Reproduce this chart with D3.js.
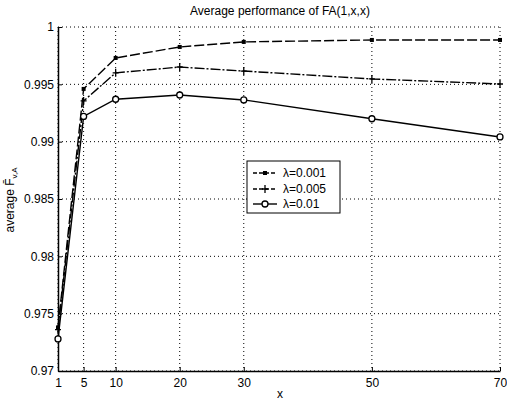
<!DOCTYPE html>
<html><head><meta charset="utf-8">
<script src="https://cdn.jsdelivr.net/npm/d3@7"></script>
<style>body{margin:0;background:#fff;} text{font-family:"Liberation Sans",Arial,sans-serif;}</style>
</head><body><svg id="c" width="507" height="402"></svg>
<script>
const xValues = [1, 5, 10, 20, 30, 50, 70];
const s001 = [0.9738, 0.9946, 0.9973, 0.99826, 0.9987, 0.99887, 0.99887];
const s005 = [0.9736, 0.99355, 0.9960, 0.99651, 0.99616, 0.99547, 0.99503];
const s01 = [0.9728, 0.9922, 0.9937, 0.99407, 0.99364, 0.9920, 0.99041];
const seriesNames = ["λ=0.001", "λ=0.005", "λ=0.01"];
const xTicks = [1, 5, 10, 20, 30, 50, 70];
const yTicks = [0.97, 0.975, 0.98, 0.985, 0.99, 0.995, 1];
const yTickLabels = ["0.97", "0.975", "0.98", "0.985", "0.99", "0.995", "1"];

const svg = d3.select("#c");
const L = 58, R = 500, T = 27, B = 371;
const x = d3.scaleLinear().domain([1, 70]).range([L, R]);
const y = d3.scaleLinear().domain([0.97, 1]).range([B, T]);

// grid
const g = svg.append("g");
g.selectAll(".vg").data(xTicks).join("line")
  .attr("x1", d => x(d)).attr("x2", d => x(d)).attr("y1", T).attr("y2", B)
  .attr("stroke", "#000").attr("stroke-width", 1).attr("stroke-dasharray", "1,3");
g.selectAll(".hg").data(yTicks).join("line")
  .attr("x1", L).attr("x2", R).attr("y1", d => y(d)).attr("y2", d => y(d))
  .attr("stroke", "#000").attr("stroke-width", 1).attr("stroke-dasharray", "1,3");

// axes
const xAxis = d3.axisBottom(x).tickValues(xTicks).tickSize(-4).tickSizeOuter(0).tickPadding(6).tickFormat(d3.format("d"));
const yAxis = d3.axisLeft(y).tickValues(yTicks).tickSize(-4).tickSizeOuter(0).tickPadding(4).tickFormat((d, i) => yTickLabels[i]);
const gx = svg.append("g").attr("transform", `translate(0,${B})`).call(xAxis);
const gy = svg.append("g").attr("transform", `translate(${L},0)`).call(yAxis);
[gx, gy].forEach(a => {
  a.select(".domain").attr("stroke", "#000").attr("stroke-width", 1.5);
  a.selectAll("text").attr("font-size", 12).attr("fill", "#000").attr("font-family", "Liberation Sans, Arial, sans-serif");
  a.selectAll(".tick line").attr("stroke", "#000");
});
gx.selectAll("text").attr("dy", "0.85em");

// series
const series = [
  {vals: s001, dash: "10,3", marker: "square"},
  {vals: s005, dash: "10,2,2,2", marker: "plus"},
  {vals: s01, dash: null, marker: "circle"}
];
const line = d3.line().x((d, i) => x(xValues[i])).y(d => y(d));
series.forEach(s => {
  svg.append("path").datum(s.vals).attr("d", line).attr("fill", "none")
    .attr("stroke", "#000").attr("stroke-width", 1.4)
    .attr("stroke-dasharray", s.dash);
  const m = svg.append("g");
  s.vals.forEach((v, i) => {
    const cx = x(xValues[i]), cy = y(v);
    if (s.marker === "square") m.append("rect").attr("x", cx - 2).attr("y", cy - 2).attr("width", 4).attr("height", 4).attr("fill", "#000");
    else if (s.marker === "plus") m.append("path").attr("d", `M${cx},${cy-4}V${cy+4}M${cx-3},${cy}H${cx+3}`).attr("stroke", "#000").attr("stroke-width", 1.3);
    else m.append("circle").attr("cx", cx).attr("cy", cy).attr("r", 3).attr("fill", "#fff").attr("stroke", "#000").attr("stroke-width", 1.3);
  });
});

// legend
const lg = svg.append("g");
lg.append("rect").attr("x", 247).attr("y", 161).attr("width", 93).attr("height", 52)
  .attr("fill", "#fff").attr("stroke", "#000").attr("stroke-width", 1);
const ly = [173, 189, 204];
series.forEach((s, i) => {
  const yy = ly[i];
  lg.append("line").attr("x1", 253).attr("x2", 277).attr("y1", yy).attr("y2", yy)
    .attr("stroke", "#000").attr("stroke-width", 1.4).attr("stroke-dasharray", s.dash ? "4,2" : null);
  const cx = 265;
  if (s.marker === "square") lg.append("rect").attr("x", cx - 2).attr("y", yy - 2).attr("width", 4).attr("height", 4).attr("fill", "#000");
  else if (s.marker === "plus") lg.append("path").attr("d", `M${cx},${yy-4}V${yy+4}M${cx-3},${yy}H${cx+3}`).attr("stroke", "#000").attr("stroke-width", 1.3);
  else lg.append("circle").attr("cx", cx).attr("cy", yy).attr("r", 3).attr("fill", "#fff").attr("stroke", "#000").attr("stroke-width", 1.3);
  lg.append("text").attr("x", 283).attr("y", yy + 4).attr("font-size", 12).text(seriesNames[i]);
});

// title and labels
svg.append("text").attr("x", 280).attr("y", 15).attr("text-anchor", "middle").attr("font-size", 12).text("Average performance of FA(1,x,x)");
svg.append("text").attr("x", 280).attr("y", 398).attr("text-anchor", "middle").attr("font-size", 12).text("x");
const yl = svg.append("text").attr("transform", "translate(14,200) rotate(-90)").attr("text-anchor", "middle").attr("font-size", 12);
yl.append("tspan").text("average F\u0304");
yl.append("tspan").attr("font-size", 8).attr("dy", 3).text("v,A");
</script></body></html>
